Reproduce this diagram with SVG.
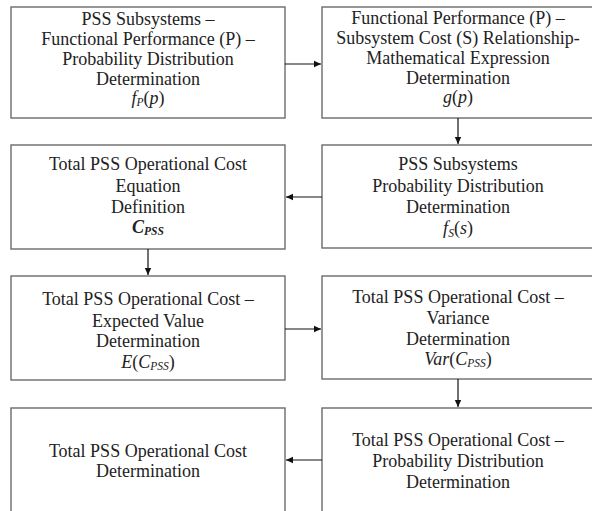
<svg xmlns="http://www.w3.org/2000/svg" width="592" height="511" viewBox="0 0 592 511">
<defs>
<marker id="ah" markerWidth="8" markerHeight="8" refX="7" refY="4" orient="auto" markerUnits="userSpaceOnUse">
<path d="M0,0.8 L7,4 L0,7.2 Z" fill="#111"/>
</marker>
</defs>
<rect width="592" height="511" fill="#fff"/>
<g id="nodes" font-family="Liberation Serif" font-size="18" text-anchor="middle">
<g id="n1">
<rect x="11" y="7" width="274" height="111" fill="#fff" stroke="#6b6b6b" stroke-width="1.4"/>
<text font-family="Liberation Serif" fill="#222" x="148" y="25">PSS Subsystems –</text>
<text font-family="Liberation Serif" fill="#222" x="148" y="45">Functional Performance (P) –</text>
<text font-family="Liberation Serif" fill="#222" x="148" y="65">Probability Distribution</text>
<text font-family="Liberation Serif" fill="#222" x="148" y="85">Determination</text>
<text font-family="Liberation Serif" fill="#222" x="148" y="104"><tspan font-style="italic">f</tspan><tspan font-size="11.5" font-style="italic" dy="2">P</tspan><tspan dy="-2">(</tspan><tspan font-style="italic">p</tspan>)</text>
</g>
<g id="n2">
<rect x="322" y="7" width="274" height="111" fill="#fff" stroke="#6b6b6b" stroke-width="1.4"/>
<text font-family="Liberation Serif" fill="#222" x="458" y="24">Functional Performance (P) –</text>
<text font-family="Liberation Serif" fill="#222" x="458" y="44">Subsystem Cost (S) Relationship-</text>
<text font-family="Liberation Serif" fill="#222" x="458" y="64">Mathematical Expression</text>
<text font-family="Liberation Serif" fill="#222" x="458" y="84">Determination</text>
<text font-family="Liberation Serif" fill="#222" x="458" y="103"><tspan font-style="italic">g</tspan>(<tspan font-style="italic">p</tspan>)</text>
</g>
<g id="n3">
<rect x="11" y="145" width="274" height="104" fill="#fff" stroke="#6b6b6b" stroke-width="1.4"/>
<text font-family="Liberation Serif" fill="#222" x="148" y="170">Total PSS Operational Cost</text>
<text font-family="Liberation Serif" fill="#222" x="148" y="192">Equation</text>
<text font-family="Liberation Serif" fill="#222" x="148" y="213">Definition</text>
<text font-family="Liberation Serif" fill="#222" x="148" y="233" font-weight="bold" font-style="italic">C<tspan font-size="11.5" dy="2">PSS</tspan></text>
</g>
<g id="n4">
<rect x="322" y="145" width="274" height="103" fill="#fff" stroke="#6b6b6b" stroke-width="1.4"/>
<text font-family="Liberation Serif" fill="#222" x="458" y="170">PSS Subsystems</text>
<text font-family="Liberation Serif" fill="#222" x="458" y="192">Probability Distribution</text>
<text font-family="Liberation Serif" fill="#222" x="458" y="213">Determination</text>
<text font-family="Liberation Serif" fill="#222" x="458" y="234"><tspan font-style="italic">f</tspan><tspan font-size="11.5" font-style="italic" dy="3">S</tspan><tspan dy="-3">(</tspan><tspan font-style="italic">s</tspan>)</text>
</g>
<g id="n5">
<rect x="11" y="276" width="274" height="104" fill="#fff" stroke="#6b6b6b" stroke-width="1.4"/>
<text font-family="Liberation Serif" fill="#222" x="148" y="305">Total PSS Operational Cost –</text>
<text font-family="Liberation Serif" fill="#222" x="148" y="327">Expected Value</text>
<text font-family="Liberation Serif" fill="#222" x="148" y="347">Determination</text>
<text font-family="Liberation Serif" fill="#222" x="148" y="368"><tspan font-style="italic">E</tspan>(<tspan font-style="italic">C</tspan><tspan font-size="11.5" font-style="italic" dy="2">PSS</tspan><tspan dy="-2">)</tspan></text>
</g>
<g id="n6">
<rect x="322" y="276" width="274" height="103" fill="#fff" stroke="#6b6b6b" stroke-width="1.4"/>
<text font-family="Liberation Serif" fill="#222" x="458" y="303">Total PSS Operational Cost –</text>
<text font-family="Liberation Serif" fill="#222" x="458" y="324">Variance</text>
<text font-family="Liberation Serif" fill="#222" x="458" y="345">Determination</text>
<text font-family="Liberation Serif" fill="#222" x="458" y="365"><tspan font-style="italic">Var</tspan>(<tspan font-style="italic">C</tspan><tspan font-size="11.5" font-style="italic" dy="2">PSS</tspan><tspan dy="-2">)</tspan></text>
</g>
<g id="n7">
<rect x="11" y="408" width="274" height="110" fill="#fff" stroke="#6b6b6b" stroke-width="1.4"/>
<text font-family="Liberation Serif" fill="#222" x="148" y="457">Total PSS Operational Cost</text>
<text font-family="Liberation Serif" fill="#222" x="148" y="477">Determination</text>
</g>
<g id="n8">
<rect x="322" y="408" width="274" height="110" fill="#fff" stroke="#6b6b6b" stroke-width="1.4"/>
<text font-family="Liberation Serif" fill="#222" x="458" y="446">Total PSS Operational Cost –</text>
<text font-family="Liberation Serif" fill="#222" x="458" y="467">Probability Distribution</text>
<text font-family="Liberation Serif" fill="#222" x="458" y="488">Determination</text>
</g>
</g>
<g id="connectors" stroke="#111" stroke-width="1.2" fill="none" marker-end="url(#ah)">
<line x1="285" y1="64" x2="321" y2="64"/>
<line x1="458" y1="118" x2="458" y2="144"/>
<line x1="322" y1="197" x2="286" y2="197"/>
<line x1="148" y1="249" x2="148" y2="275"/>
<line x1="285" y1="329" x2="321" y2="329"/>
<line x1="458" y1="379" x2="458" y2="407"/>
<line x1="322" y1="460" x2="286" y2="460"/>
</g>
</svg>
